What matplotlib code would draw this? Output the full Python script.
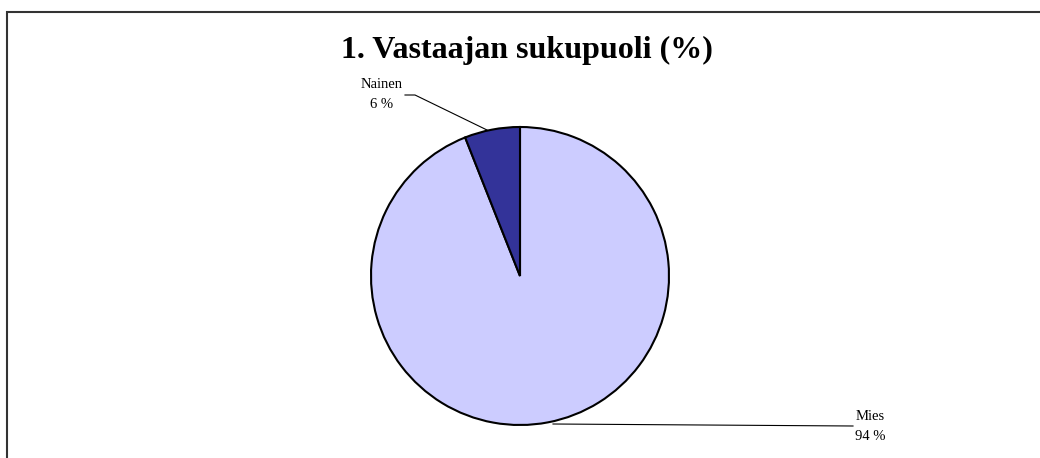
import matplotlib
matplotlib.use('Agg')
import matplotlib.pyplot as plt
from matplotlib.patches import Rectangle

labels = ['Mies', 'Nainen']
values = [94, 6]
colors = ['#CCCCFF', '#333399']
title = '1. Vastaajan sukupuoli (%)'

W, H = 1040, 458
fig = plt.figure(figsize=(W / 100, H / 100), dpi=100)
ax = fig.add_axes([0, 0, 1, 1])
ax.axis('off')

# pie in pixel-like coordinates (y measured from bottom)
cx, cy, r = 520, H - 276, 149
ax.pie(values, colors=colors, startangle=90, counterclock=False,
       center=(cx, cy), radius=r,
       wedgeprops=dict(edgecolor='black', linewidth=1.5))
ax.set_xlim(0, W)
ax.set_ylim(0, H)
ax.set_aspect('equal')

font = 'Liberation Serif'
ax.text(527, H - 50, title, ha='center', va='center', fontsize=23,
        fontweight='bold', family=font)

# Nainen label + leader
ax.text(382, H - 85, labels[1], ha='center', va='center', fontsize=10.5, family=font)
ax.text(382, H - 105, f'{values[1]} %', ha='center', va='center', fontsize=10.5, family=font)
ax.plot([405, 415, 487], [H - 95, H - 95, H - 130], color='black', lw=0.8)

# Mies label + leader
ax.text(870, H - 416, labels[0], ha='center', va='center', fontsize=10.5, family=font)
ax.text(870, H - 436, f'{values[0]} %', ha='center', va='center', fontsize=10.5, family=font)
ax.plot([553, 853], [H - 424, H - 426], color='black', lw=0.8)

# chart frame (cropped on right and bottom)
fig.patches.append(Rectangle((6.5 / W, -0.1), 1.2, 1.1 - 11.5 / H,
                             transform=fig.transFigure, fill=False,
                             edgecolor='#333333', linewidth=1.5))

fig.savefig('out.png', dpi=100)
